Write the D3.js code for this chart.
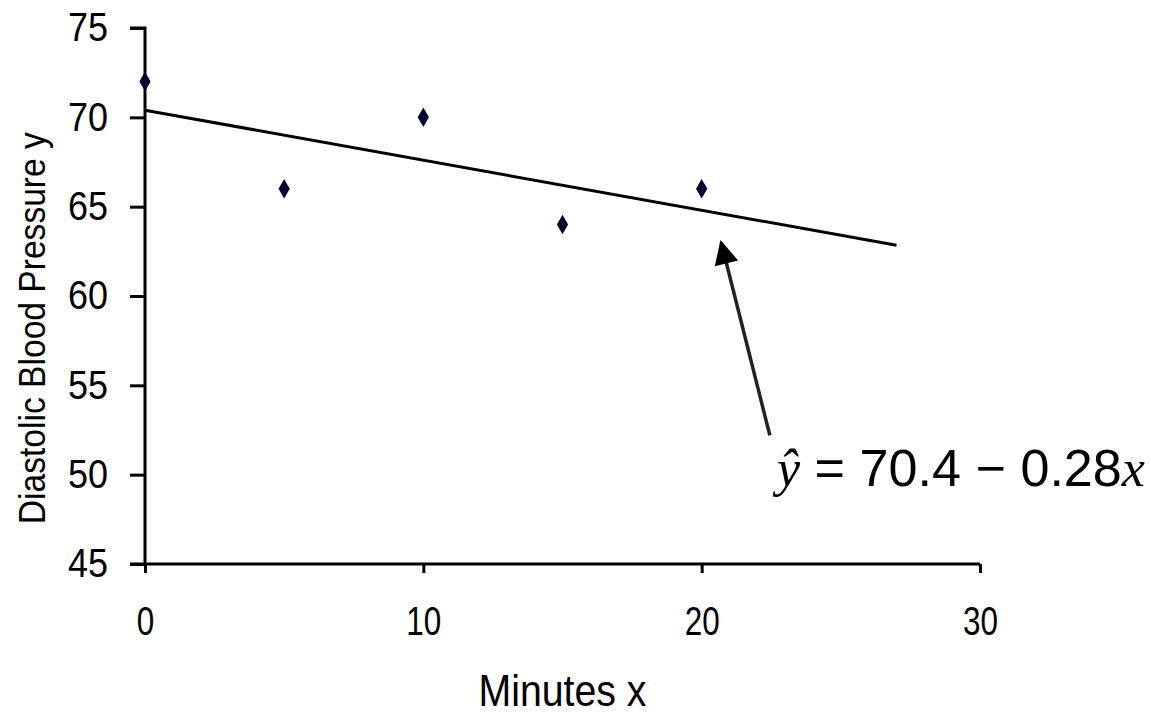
<!DOCTYPE html>
<html>
<head>
<meta charset="utf-8">
<script src="https://cdn.jsdelivr.net/npm/d3@7"></script>
<style>
  body { margin: 0; background: #fff; }
  text { font-family: "Liberation Sans", Arial, sans-serif; fill: #000; }
</style>
</head>
<body>
<div id="chart"></div>
<script>
const minutes = [0, 5, 10, 15, 20]
const pressure = [72, 66, 70, 64, 66]
const intercept = 70.4
const slope = -0.28
const fitRange = [0, 27]
const xTicks = [0, 10, 20, 30]
const yTicks = [45, 50, 55, 60, 65, 70, 75]
const equation = 'ŷ = 70.4 − 0.28x'
const arrowFrom = [22.45, 52.2] // data coords of arrow tail
const arrowTo = [20.7, 63.0] // data coords of arrow tip

const width = 1151
const height = 715
const margin = { top: 28, left: 145, right: 171, bottom: 151 }

const svg = d3
  .select('#chart')
  .append('svg')
  .attr('width', width)
  .attr('height', height)

const x = d3.scaleLinear().domain([0, 30]).range([margin.left, width - margin.right])
const y = d3.scaleLinear().domain([45, 75]).range([height - margin.bottom, margin.top])

// y axis
const yAxis = svg
  .append('g')
  .attr('transform', `translate(${margin.left},0)`)
  .call(d3.axisLeft(y).tickValues(yTicks).tickSize(15).tickPadding(22))
yAxis.select('.domain').attr('stroke-width', 3).attr('d', `M-15,${y(75)}H0V${y(45)}`)
yAxis.selectAll('.tick line').attr('stroke-width', 3)
yAxis
  .selectAll('.tick text')
  .attr('font-size', 40)
  .attr('font-family', '"Liberation Sans", Arial, sans-serif')
  .attr('textLength', 40)
  .attr('lengthAdjust', 'spacingAndGlyphs')

// x axis
const xAxis = svg
  .append('g')
  .attr('transform', `translate(0,${y(45)})`)
  .call(d3.axisBottom(x).tickValues(xTicks).tickSize(9).tickPadding(34))
xAxis.select('.domain').attr('stroke-width', 3).attr('d', `M${x(0) - 15},0H${x(30)}`)
xAxis.selectAll('.tick line').attr('stroke-width', 3)
xAxis
  .selectAll('.tick text')
  .attr('font-size', 40)
  .attr('font-family', '"Liberation Sans", Arial, sans-serif')
  .attr('textLength', d => String(d).length * 17.5)
  .attr('lengthAdjust', 'spacingAndGlyphs')

// axis titles
svg
  .append('text')
  .attr('x', (x(0) + x(30)) / 2)
  .attr('y', 706)
  .attr('text-anchor', 'middle')
  .attr('font-size', 44)
  .attr('textLength', 168)
  .attr('lengthAdjust', 'spacingAndGlyphs')
  .text('Minutes x')

svg
  .append('text')
  .attr('transform', `translate(45,${y(58.2)}) rotate(-90)`)
  .attr('text-anchor', 'middle')
  .attr('font-size', 36)
  .attr('textLength', 392)
  .attr('lengthAdjust', 'spacingAndGlyphs')
  .text('Diastolic Blood Pressure y')

// fitted line
const line = d3
  .line()
  .x(d => x(d))
  .y(d => y(intercept + slope * d))

svg
  .append('path')
  .datum(fitRange)
  .attr('d', line)
  .attr('stroke', '#000')
  .attr('stroke-width', 3)
  .attr('fill', 'none')

// points
const diamond = d3.symbol().type(d3.symbolDiamond).size(110)
svg
  .selectAll('.pt')
  .data(minutes)
  .join('path')
  .attr('class', 'pt')
  .attr('transform', (d, i) => `translate(${x(d)},${y(pressure[i])})`)
  .attr('d', diamond)
  .attr('fill', '#000033')

// arrow
svg
  .append('defs')
  .append('marker')
  .attr('id', 'head')
  .attr('viewBox', '0 0 10 10')
  .attr('refX', 9)
  .attr('refY', 5)
  .attr('markerUnits', 'userSpaceOnUse')
  .attr('orient', 'auto')
  .attr('markerWidth', 30)
  .attr('markerHeight', 24)
  .append('path')
  .attr('d', 'M0,0L10,5L0,10Z')
  .attr('fill', '#000')

svg
  .append('line')
  .attr('x1', x(arrowFrom[0]))
  .attr('y1', y(arrowFrom[1]))
  .attr('x2', x(arrowTo[0]))
  .attr('y2', y(arrowTo[1]))
  .attr('stroke', '#222')
  .attr('stroke-width', 3.5)
  .attr('marker-end', 'url(#head)')

// equation label
const eq = svg
  .append('text')
  .attr('x', 777)
  .attr('y', 486)
  .attr('font-size', 52)
  .attr('textLength', 368)
  .attr('lengthAdjust', 'spacingAndGlyphs')

const parts = equation.split(/(ŷ|x$)/).filter(s => s.length)
parts.forEach(p => {
  const t = eq.append('tspan').text(p)
  if (p === 'ŷ' || p === 'x') {
    t.attr('font-family', '"Liberation Serif", "Times New Roman", serif').attr('font-style', 'italic')
  }
})
</script>
</body>
</html>
